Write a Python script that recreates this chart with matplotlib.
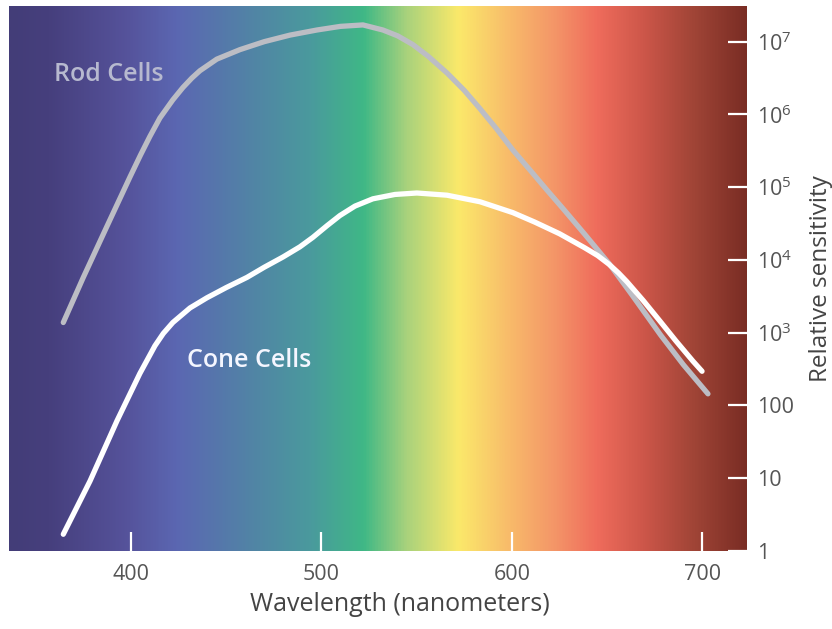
import numpy as np
import matplotlib
matplotlib.use("Agg")
import matplotlib.pyplot as plt
from matplotlib.colors import LinearSegmentedColormap
from matplotlib.ticker import FixedLocator, FixedFormatter, NullLocator

plt.rcParams['font.family'] = ['Open Sans', 'DejaVu Sans']
plt.rcParams['mathtext.fontset'] = 'custom'
plt.rcParams['mathtext.rm'] = 'Open Sans'

# Spectral sensitivity curves: wavelength (nm) and log10 of relative sensitivity
rod_wavelength = [364.5, 375.0, 387.2, 399.5, 405.0, 410.0, 415.2, 422.0, 427.3,
                  432.0, 436.2, 445.1, 457.2, 470.0, 483.5, 497.6, 510.0, 521.8,
                  532.3, 540.0, 548.0, 556.0, 565.9, 575.0, 583.2, 592.0, 600.5,
                  610.0, 618.4, 627.0, 638.0, 651.0, 663.0, 678.0, 690.0, 702.9]
rod_log_sensitivity = [3.14, 3.76, 4.45, 5.14, 5.44, 5.70, 5.95, 6.20, 6.37,
                       6.50, 6.60, 6.76, 6.89, 7.00, 7.09, 7.16, 7.21, 7.23,
                       7.16, 7.08, 6.96, 6.80, 6.57, 6.33, 6.08, 5.80, 5.51,
                       5.22, 4.96, 4.70, 4.36, 3.95, 3.52, 2.97, 2.56, 2.16]

cone_wavelength = [364.5, 378.5, 392.7, 404.7, 412.6, 417.0, 422.0, 431.0, 439.9,
                   450.0, 460.9, 470.0, 479.8, 488.7, 495.5, 502.9, 509.7, 517.6,
                   527.0, 538.6, 550.1, 565.9, 583.2, 600.5, 612.0, 625.0, 638.0,
                   645.0, 651.0, 656.0, 660.4, 669.0, 677.7, 686.0, 695.0, 699.8]
cone_log_sensitivity = [0.23, 0.96, 1.79, 2.44, 2.82, 2.99, 3.14, 3.34, 3.48,
                        3.62, 3.76, 3.90, 4.04, 4.18, 4.31, 4.47, 4.61, 4.74,
                        4.84, 4.90, 4.92, 4.89, 4.80, 4.65, 4.52, 4.36, 4.17,
                        4.06, 3.94, 3.82, 3.70, 3.44, 3.16, 2.89, 2.61, 2.47]

x_ticks = [400, 500, 600, 700]
x_tick_labels = ['400', '500', '600', '700']
y_ticks = [1, 10, 100, 1e3, 1e4, 1e5, 1e6, 1e7]
y_tick_labels = ['1', '10', '100', r'$\mathregular{10^{3}}$', r'$\mathregular{10^{4}}$',
                 r'$\mathregular{10^{5}}$', r'$\mathregular{10^{6}}$', r'$\mathregular{10^{7}}$']

# Visible-spectrum backdrop: colour stops by wavelength
x_min, x_max = 336.0, 723.4
spectrum_stops = [
    (336.0, '#433d78'), (356.4, '#463f7d'), (396.3, '#55529a'), (424.1, '#5b67b2'),
    (464.6, '#5185a5'), (494.5, '#4a9a9d'), (522.3, '#3fb886'), (544.9, '#a9d27c'),
    (572.2, '#fbe96a'), (600.0, '#f8b96a'), (622.6, '#f49668'), (645.1, '#ef6c5c'),
    (670.3, '#cc5649'), (695.5, '#a14537'), (723.4, '#7a2d24'),
]
spectrum_cmap = LinearSegmentedColormap.from_list(
    'spectrum', [((w - x_min) / (x_max - x_min), c) for w, c in spectrum_stops])

fig = plt.figure(figsize=(8.32, 6.29), dpi=100)
ax = fig.add_axes([9 / 832, 1 - 551 / 629, 738 / 832, 545 / 629])

ax.imshow(np.linspace(0, 1, 512)[None, :], cmap=spectrum_cmap, aspect='auto',
          extent=[0, 1, 0, 1], transform=ax.transAxes, zorder=0, interpolation='bilinear')

ax.set_yscale('log')
ax.set_xlim(x_min, x_max)
ax.set_ylim(1, 10 ** 7.49)

ax.plot(rod_wavelength, 10 ** np.array(rod_log_sensitivity), color='#bcbdc4', lw=3.8,
        solid_capstyle='round', solid_joinstyle='round', zorder=3)
ax.plot(cone_wavelength, 10 ** np.array(cone_log_sensitivity), color='white', lw=3.8,
        solid_capstyle='round', solid_joinstyle='round', zorder=4)

ax.text(0.135, 0.875, 'Rod Cells', transform=ax.transAxes, color='#b7b9cf',
        fontsize=18, fontweight='semibold', ha='center', va='center', zorder=5)
ax.text(0.325, 0.349, 'Cone Cells', transform=ax.transAxes, color='#f4f6ff',
        fontsize=18, fontweight='semibold', ha='center', va='center', zorder=5)

for s in ax.spines.values():
    s.set_visible(False)

ax.xaxis.set_major_locator(FixedLocator(x_ticks))
ax.xaxis.set_major_formatter(FixedFormatter(x_tick_labels))
ax.xaxis.set_minor_locator(NullLocator())
ax.yaxis.tick_right()
ax.yaxis.set_label_position('right')
ax.yaxis.set_major_locator(FixedLocator(y_ticks))
ax.yaxis.set_major_formatter(FixedFormatter(y_tick_labels))
ax.yaxis.set_minor_locator(NullLocator())

ax.tick_params(axis='both', direction='in', length=14, width=1.6, color='white',
               labelcolor='#555555', labelsize=15.5)
ax.tick_params(axis='x', pad=9)
ax.tick_params(axis='y', pad=7)

ax.set_xlabel('Wavelength (nanometers)', fontsize=18, color='#444444', labelpad=2)
ax.xaxis.set_label_coords(0.53, -0.075)
ax.set_ylabel('Relative sensitivity', fontsize=17.5, color='#444444', rotation=90,
              ha='center', va='center')
ax.yaxis.set_label_coords(1.1, 0.5)

fig.savefig('out.png', dpi=100, facecolor='white')
